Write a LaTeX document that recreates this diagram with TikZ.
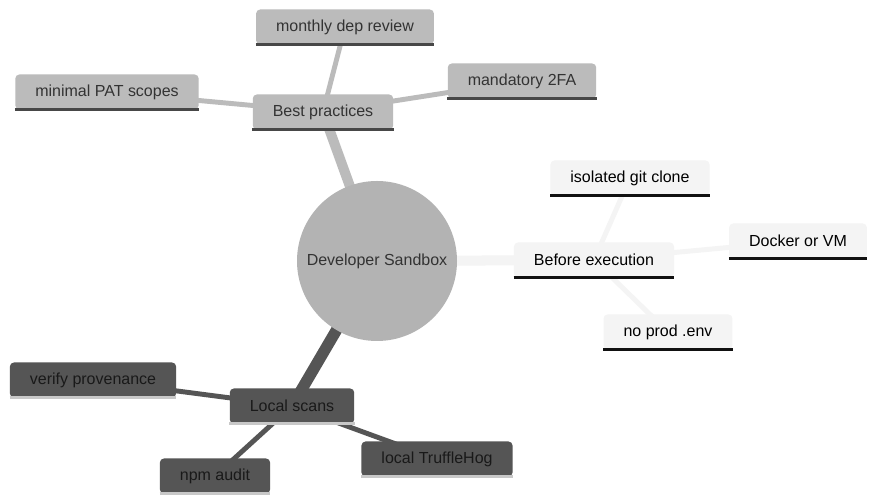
\documentclass[tikz,border=0pt]{standalone}
\usepackage{fontspec}
\setmainfont{Liberation Sans}
\usepackage{tikz}
\usepackage{xcolor}
\usetikzlibrary{backgrounds}

\definecolor{rootfill}{HTML}{B3B3B3}
\definecolor{bpfill}{HTML}{BBBBBB}
\definecolor{befill}{HTML}{F4F4F4}
\definecolor{lsfill}{HTML}{555555}
\definecolor{bpline}{HTML}{474747}
\definecolor{beline}{HTML}{111111}
\definecolor{lsline}{HTML}{C8C8C8}
\definecolor{txtgray}{HTML}{333333}

\newcommand{\mmfont}{\fontsize{9.1pt}{11pt}\selectfont}

\tikzset{
  leaf/.style={rounded corners=2.3pt, inner xsep=0.4cm, minimum height=0.7cm, font=\mmfont},
  bpleaf/.style={leaf, fill=bpfill, text=txtgray,
    append after command={(\tikzlastnode.south west) edge[draw=bpline, line width=1.7pt] (\tikzlastnode.south east)}},
  beleaf/.style={leaf, fill=befill, text=black,
    append after command={(\tikzlastnode.south west) edge[draw=beline, line width=1.7pt] (\tikzlastnode.south east)}},
  lsleaf/.style={leaf, fill=lsfill, text=black!90,
    append after command={(\tikzlastnode.south west) edge[draw=lsline, line width=1.7pt] (\tikzlastnode.south east)}},
  trunk/.style={line width=5.7pt},
  twig/.style={line width=2.8pt}
}

\begin{document}
\begin{tikzpicture}
\useasboundingbox (0,0) rectangle (17.54,10.08);

% centre
\node[circle, fill=rootfill, minimum size=3.2cm, inner sep=0pt, text=txtgray, font=\mmfont] (root) at (7.54,4.86) {Developer Sandbox};

% best practices
\node[bpleaf] (bp) at (6.46,7.84) {Best practices};
\node[bpleaf] (review) at (6.90,9.54) {monthly dep review};
\node[bpleaf] (twofa) at (10.44,8.46) {mandatory 2FA};
\node[bpleaf] (pat) at (2.14,8.24) {minimal PAT scopes};

% before execution
\node[beleaf] (be) at (11.88,4.88) {Before execution};
\node[beleaf] (clone) at (12.60,6.52) {isolated git clone};
\node[beleaf] (docker) at (15.96,5.26) {Docker or VM};
\node[beleaf] (noenv) at (13.36,3.44) {no prod .env};

% local scans
\node[lsleaf] (ls) at (5.84,1.96) {Local scans};
\node[lsleaf] (prov) at (1.86,2.48) {verify provenance};
\node[lsleaf] (npm) at (4.30,0.56) {npm audit};
\node[lsleaf] (hog) at (8.74,0.90) {local TruffleHog};

\begin{scope}[on background layer]
\fill[white] (0,0) rectangle (17.54,10.08);
\draw[trunk, bpfill] (root.center) -- (bp.center);
\draw[trunk, befill] (root.center) -- (be.center);
\draw[trunk, lsfill, line width=6.5pt] (root.center) -- (ls.center);
\foreach \n in {review,twofa,pat}
  \draw[twig, bpfill] (bp.center) -- (\n.center);
\foreach \n in {clone,docker,noenv}
  \draw[twig, befill] (be.center) -- (\n.center);
\foreach \n in {prov,npm,hog}
  \draw[twig, lsfill] (ls.center) -- (\n.center);
\end{scope}
\end{tikzpicture}
\end{document}
